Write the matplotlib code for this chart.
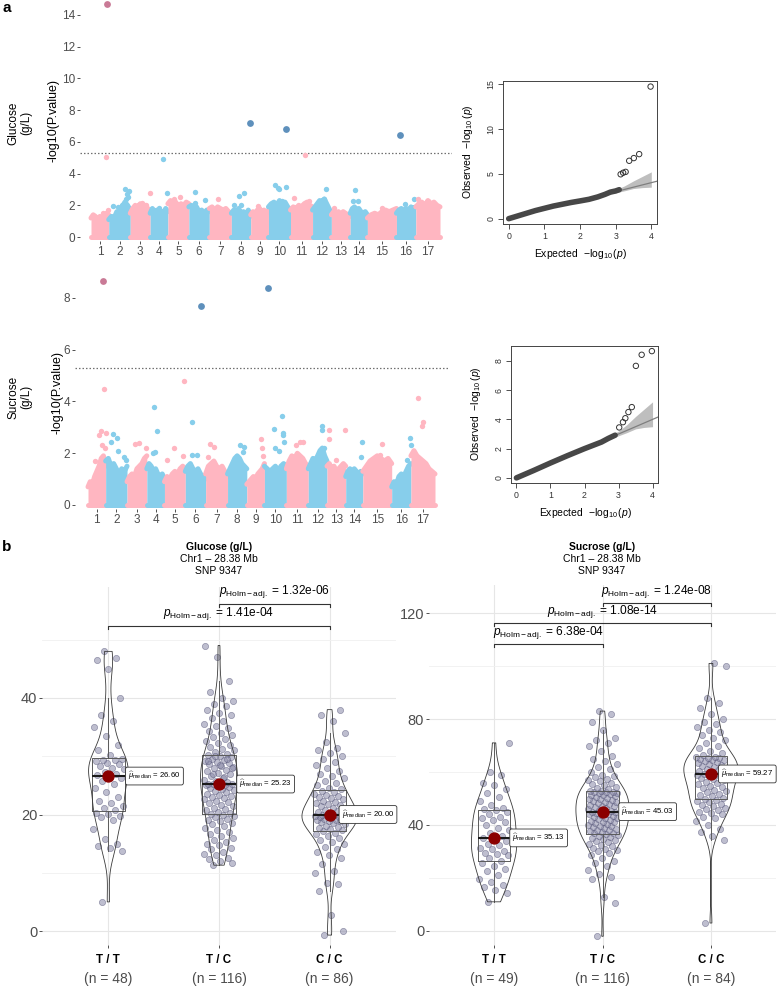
import numpy as np
import matplotlib
matplotlib.use('Agg')
import matplotlib.pyplot as plt

plt.rcParams['font.family'] = ['Liberation Sans', 'DejaVu Sans']
plt.rcParams['mathtext.fontset'] = 'custom'
plt.rcParams['mathtext.rm'] = 'Liberation Sans'
plt.rcParams['mathtext.it'] = 'Liberation Sans:italic'
plt.rcParams['mathtext.bf'] = 'Liberation Sans:bold'

# ======================= DATA : panel a =======================
chromosomes = [str(i) for i in range(1, 18)]
chr_len = [33, 40, 37, 33, 39, 38, 41, 36, 33, 41, 41, 35, 35, 32, 54, 36, 45]
env_pos = [0.0, 0.125, 0.25, 0.375, 0.5, 0.625, 0.75, 0.875, 1.0]
threshold = 5.3

# upper edge of the dense SNP cloud per chromosome (-log10 p)
glu_env = [
    [1.2, 1.4, 1.3, 1.1, 1.3, 1.2, 1.3, 1.5, 1.4],
    [1.1, 1.3, 1.2, 1.6, 1.5, 1.9, 2.2, 2.0, 1.7],
    [1.5, 1.8, 2.0, 1.9, 2.1, 1.9, 2.0, 1.8, 1.7],
    [1.5, 1.8, 1.6, 1.7, 1.4, 1.6, 1.5, 1.8, 1.6],
    [2.1, 2.3, 2.0, 2.2, 1.9, 2.1, 2.0, 2.2, 2.1],
    [1.9, 2.0, 1.8, 1.9, 1.6, 1.7, 1.5, 1.7, 1.6],
    [1.8, 1.9, 1.7, 1.9, 1.8, 1.7, 1.8, 1.6, 1.5],
    [1.5, 1.7, 1.6, 1.8, 1.5, 1.6, 1.4, 1.7, 1.3],
    [1.4, 1.6, 1.5, 1.7, 1.8, 1.6, 1.7, 1.5, 1.7],
    [1.9, 2.1, 2.2, 2.0, 2.3, 2.1, 2.2, 1.9, 1.7],
    [1.7, 1.9, 1.8, 2.0, 1.9, 2.1, 2.2, 2.0, 1.9],
    [1.7, 1.9, 2.1, 2.3, 2.2, 2.4, 2.1, 1.8, 1.5],
    [1.4, 1.6, 1.5, 1.6, 1.4, 1.6, 1.5, 1.4, 1.3],
    [1.5, 1.8, 1.9, 1.7, 1.8, 1.6, 1.5, 1.6, 1.4],
    [1.2, 1.4, 1.5, 1.4, 1.6, 1.7, 1.6, 1.7, 1.8],
    [1.5, 1.7, 1.8, 1.6, 1.8, 1.7, 1.9, 1.8, 1.9],
    [1.9, 2.1, 2.2, 2.0, 2.3, 2.1, 2.2, 2.0, 1.9]]
suc_env = [
    [0.7, 0.9, 0.8, 1.1, 1.3, 1.5, 1.8, 1.9, 1.5],
    [1.7, 1.8, 1.5, 1.6, 1.4, 1.2, 1.4, 1.3, 1.5],
    [0.9, 1.1, 1.2, 1.1, 1.4, 1.5, 1.6, 1.8, 1.9],
    [1.4, 1.6, 1.5, 1.3, 1.4, 1.2, 1.1, 1.2, 1.0],
    [0.9, 1.1, 1.0, 1.2, 1.3, 1.2, 1.4, 1.5, 1.4],
    [1.3, 1.5, 1.6, 1.4, 1.3, 1.4, 1.2, 1.1, 1.0],
    [1.2, 1.5, 1.6, 1.7, 1.5, 1.4, 1.5, 1.3, 1.1],
    [1.2, 1.4, 1.6, 1.8, 1.9, 1.8, 1.6, 1.5, 1.4],
    [0.8, 0.9, 1.0, 1.1, 1.0, 1.2, 1.3, 1.4, 1.6],
    [1.5, 1.4, 1.3, 1.4, 1.5, 1.3, 1.5, 1.6, 1.5],
    [1.4, 1.7, 1.9, 1.8, 2.0, 1.9, 1.8, 1.6, 1.5],
    [1.4, 1.6, 1.8, 1.7, 1.9, 2.1, 2.2, 1.9, 1.7],
    [1.5, 1.6, 1.4, 1.5, 1.3, 1.4, 1.5, 1.6, 1.5],
    [1.1, 1.3, 1.4, 1.2, 1.4, 1.3, 1.2, 1.3, 1.2],
    [1.3, 1.5, 1.7, 1.8, 1.9, 1.8, 1.7, 1.8, 1.6],
    [0.7, 0.9, 0.8, 1.1, 1.2, 1.1, 1.3, 1.5, 1.6],
    [1.9, 2.1, 1.9, 1.8, 1.7, 1.6, 1.4, 1.3, 1.2]]

# isolated SNPs: (chromosome, relative position in chromosome, -log10 p)
glu_hits = [
    (1, 0.83, 5.05), (1, 0.89, 14.7), (1, 0.95, 1.7), (1, 0.7, 1.5),
    (2, 0.2, 1.95), (2, 0.45, 1.9), (2, 0.6, 2.0), (2, 0.76, 3.05), (2, 0.85, 2.7),
    (2, 0.95, 2.9), (2, 0.9, 2.55), (2, 0.8, 2.4),
    (3, 0.6, 2.15), (3, 0.8, 2.05), (3, 0.98, 2.75),
    (4, 0.7, 4.9), (4, 0.95, 2.8), (4, 0.5, 1.85),
    (5, 0.6, 2.5), (5, 0.3, 2.4),
    (6, 0.3, 2.85), (6, 0.3, 2.15), (6, 0.8, 2.35),
    (7, 0.4, 2.4),
    (8, 0.4, 2.6), (8, 0.65, 2.75), (8, 0.95, 7.2), (8, 0.15, 2.0), (8, 0.5, 2.05),
    (9, 0.4, 1.95),
    (10, 0.28, 3.25), (10, 0.42, 3.1), (10, 0.46, 3.0), (10, 0.8, 3.15), (10, 0.78, 6.8),
    (10, 0.6, 2.25),
    (11, 0.15, 2.45), (11, 0.65, 5.2), (11, 0.85, 2.3),
    (12, 0.7, 3.0), (12, 0.6, 2.4), (12, 0.5, 2.35),
    (13, 0.15, 1.85),
    (14, 0.3, 2.95), (14, 0.15, 2.3), (14, 0.45, 2.25),
    (15, 0.5, 1.8),
    (16, 0.2, 6.45), (16, 0.45, 2.1), (16, 0.9, 2.4),
    (17, 0.1, 2.4), (17, 0.5, 2.3)]
suc_hits = [
    (1, 0.87, 8.65), (1, 0.9, 4.5), (1, 0.75, 2.85), (1, 1.0, 2.8), (1, 0.65, 2.7),
    (1, 0.8, 2.3), (1, 0.97, 2.2), (1, 0.4, 1.7),
    (2, 0.35, 2.75), (2, 0.55, 2.6), (2, 0.25, 2.45), (2, 0.6, 2.1), (2, 0.85, 1.85),
    (2, 0.95, 1.75),
    (3, 0.6, 2.4), (3, 0.4, 2.35), (3, 0.98, 2.2),
    (4, 0.38, 3.8), (4, 0.55, 2.85), (4, 0.35, 2.0), (4, 0.45, 2.05),
    (5, 0.45, 2.2), (5, 0.93, 4.8), (5, 0.88, 1.9), (5, 0.1, 1.75),
    (6, 0.79, 7.7), (6, 0.33, 3.2), (6, 0.35, 1.95), (6, 0.57, 1.95),
    (7, 0.2, 2.35), (7, 0.4, 2.25), (7, 0.12, 1.85),
    (8, 0.65, 2.3), (8, 0.85, 2.25), (8, 0.78, 2.05),
    (9, 0.8, 2.55), (9, 0.85, 2.2), (9, 0.93, 1.9),
    (10, 0.17, 8.4), (10, 0.42, 2.95), (10, 0.82, 3.45), (10, 0.83, 2.8), (10, 0.85, 2.7),
    (10, 0.88, 2.45), (10, 0.5, 2.2), (10, 0.65, 2.1),
    (11, 0.6, 2.45), (11, 0.75, 2.45), (11, 0.45, 2.3),
    (12, 0.75, 3.05), (12, 0.72, 2.9), (12, 0.85, 2.2),
    (13, 0.1, 2.9), (13, 0.95, 2.9), (13, 0.1, 2.55), (13, 0.5, 1.75),
    (14, 0.98, 2.45), (14, 0.9, 1.85),
    (15, 0.65, 2.35), (15, 0.6, 1.95),
    (16, 0.95, 2.6), (16, 0.98, 2.3), (16, 0.8, 1.75),
    (17, 0.3, 4.15), (17, 0.5, 3.2), (17, 0.45, 3.05)]

# QQ plots (expected vs observed -log10 p)
qq_glu_exp = [0, 0.25, 0.5, 0.75, 1.0, 1.25, 1.5, 1.75, 2.0, 2.25, 2.5, 2.7, 2.85, 3.0, 3.1]
qq_glu_obs = [0, 0.3, 0.6, 0.9, 1.15, 1.4, 1.6, 1.8, 1.97, 2.15, 2.42, 2.7, 2.95, 3.08, 3.22]
qq_glu_top_exp = [3.14, 3.21, 3.28, 3.38, 3.51, 3.66, 3.98]
qq_glu_top_obs = [4.93, 5.1, 5.2, 6.43, 6.73, 7.17, 14.67]
qq_suc_exp = [0, 0.5, 1.0, 1.5, 2.0, 2.5, 2.7, 2.9]
qq_suc_obs = [0, 0.5, 1.02, 1.52, 2.0, 2.45, 2.7, 2.92]
qq_suc_top_exp = [3.02, 3.13, 3.2, 3.29, 3.39, 3.51, 3.68, 3.98]
qq_suc_top_obs = [3.45, 3.81, 4.08, 4.5, 4.84, 7.66, 8.42, 8.67]
qq_band_x = [2.5, 3.0, 3.25, 3.5, 3.75, 4.0]
qq_band_lo = [2.45, 2.88, 3.1, 3.35, 3.45, 3.5]
qq_band_hi = [2.6, 3.2, 3.65, 4.2, 4.7, 5.2]

# ======================= DATA : panel b =======================
genotypes = ['T / T', 'T / C', 'C / C']
glu_TT = [5.0, 13.8, 14.2, 14.6, 15.0, 15.8, 17.5, 19.0, 19.5, 19.8,
          20.1, 20.3, 20.8, 21.2, 21.5, 22.0, 22.4, 23.0, 23.8, 24.5,
          25.2, 25.8, 26.2, 26.5, 26.7, 27.0, 27.3, 27.8, 28.0, 28.3,
          28.6, 28.9, 29.1, 29.3, 29.4, 29.6, 30.2, 31.0, 32.0, 33.5,
          35.0, 36.0, 37.0, 40.0, 45.0, 46.5, 46.8, 48.0]
glu_TC = [11.3, 11.6, 12.0, 12.3, 12.6, 13.0, 13.3, 13.6, 14.0, 14.3,
          14.7, 15.0, 15.3, 15.6, 16.0, 16.3, 16.6, 17.0, 17.3, 17.6,
          18.0, 18.3, 18.6, 18.9, 19.1, 19.3, 19.5, 19.7, 19.9, 20.1,
          20.3, 20.5, 20.8, 21.0, 21.2, 21.4, 21.7, 22.0, 22.2, 22.4,
          22.6, 22.8, 23.0, 23.2, 23.4, 23.6, 23.8, 24.0, 24.2, 24.4,
          24.6, 24.8, 24.9, 25.0, 25.1, 25.15, 25.2, 25.2, 25.26, 25.5,
          25.8, 26.0, 26.3, 26.6, 26.9, 27.2, 27.4, 27.7, 28.0, 28.2,
          28.4, 28.6, 28.8, 29.0, 29.2, 29.4, 29.6, 29.8, 30.0, 30.2,
          30.4, 30.7, 31.0, 31.3, 31.6, 32.0, 32.3, 32.6, 33.0, 33.3,
          33.6, 34.0, 34.4, 34.8, 35.2, 35.6, 36.0, 36.5, 37.0, 37.5,
          38.0, 38.6, 39.0, 39.5, 40.0, 41.0, 43.0, 47.0, 49.0, 26.5,
          27.0, 27.9, 28.5, 29.1, 29.5, 30.1]
glu_CC = [-0.7, 0.0, 2.8, 6.8, 8.0, 8.3, 10.0, 10.3, 11.5, 12.5,
          13.0, 13.5, 14.0, 14.5, 15.0, 15.3, 15.7, 16.0, 16.3, 16.6,
          16.9, 17.1, 17.3, 17.5, 17.7, 17.9, 18.1, 18.3, 18.5, 18.7,
          18.8, 18.9, 19.0, 19.1, 19.2, 19.3, 19.4, 19.5, 19.6, 19.7,
          19.8, 19.9, 20.0, 20.0, 20.2, 20.4, 20.6, 20.8, 21.0, 21.2,
          21.4, 21.6, 21.8, 22.0, 22.2, 22.4, 22.6, 22.8, 23.0, 23.2,
          23.4, 23.6, 23.8, 24.0, 24.3, 24.6, 25.0, 25.4, 25.8, 26.2,
          26.6, 27.0, 27.5, 28.0, 28.5, 29.0, 29.5, 30.0, 30.5, 31.0,
          31.5, 32.5, 34.0, 36.0, 37.0, 38.0]
suc_TT = [11.0, 14.5, 15.5, 16.5, 17.5, 18.5, 19.5, 21.0, 22.5, 23.5,
          24.5, 25.5, 26.5, 27.5, 28.5, 29.0, 29.5, 30.0, 30.8, 31.5,
          32.3, 33.0, 33.8, 34.5, 35.13, 36.0, 37.0, 38.0, 39.0, 40.0,
          41.0, 41.8, 42.5, 43.2, 44.0, 44.8, 45.5, 46.0, 46.5, 47.5,
          49.0, 50.5, 52.0, 53.5, 55.0, 56.0, 59.0, 60.0, 71.0]
suc_TC = [-2.0, 10.5, 13.0, 19.5, 20.5, 21.5, 23.0, 24.5, 25.5, 26.5,
          27.5, 28.5, 29.5, 30.0, 30.5, 31.0, 31.5, 32.0, 32.5, 33.0,
          33.5, 34.0, 34.4, 34.8, 35.2, 35.6, 36.0, 36.3, 36.5, 36.8,
          37.1, 37.4, 37.7, 38.0, 38.3, 38.6, 38.9, 39.2, 39.5, 39.8,
          40.1, 40.4, 40.7, 41.0, 41.3, 41.6, 41.9, 42.2, 42.5, 42.8,
          43.1, 43.4, 43.7, 44.0, 44.3, 44.6, 44.9, 45.0, 45.06, 45.4,
          45.8, 46.1, 46.4, 46.7, 47.0, 47.3, 47.6, 47.9, 48.2, 48.5,
          48.8, 49.1, 49.4, 49.7, 50.0, 50.3, 50.6, 50.9, 51.2, 51.5,
          51.8, 52.0, 52.2, 52.4, 52.5, 52.6, 52.7, 53.0, 53.5, 54.0,
          54.5, 55.0, 55.5, 56.0, 56.5, 57.0, 57.5, 58.0, 58.5, 59.0,
          60.0, 61.0, 62.0, 63.0, 64.0, 65.0, 66.0, 68.0, 70.0, 71.0,
          72.0, 73.0, 76.0, 79.0, 82.0, 83.0]
suc_CC = [3.0, 34.5, 36.0, 37.5, 38.5, 40.0, 41.5, 42.5, 43.0, 44.0,
          44.5, 45.0, 45.5, 46.0, 46.5, 47.0, 47.5, 48.0, 48.5, 49.0,
          49.3, 49.8, 50.3, 50.8, 51.3, 51.8, 52.3, 52.8, 53.3, 53.8,
          54.3, 54.8, 55.3, 55.8, 56.3, 56.8, 57.3, 57.8, 58.3, 58.7,
          59.0, 59.2, 59.34, 59.7, 60.0, 60.4, 60.8, 61.2, 61.6, 62.0,
          62.4, 62.8, 63.2, 63.5, 63.8, 64.1, 64.4, 64.7, 65.0, 65.2,
          65.4, 65.6, 65.8, 66.3, 67.0, 68.0, 69.0, 70.0, 71.0, 72.0,
          73.0, 74.0, 75.0, 76.0, 77.0, 78.0, 79.0, 80.0, 82.0, 84.0,
          86.0, 88.0, 100.0, 101.0]
glu_medians = [26.60, 25.23, 20.00]
suc_medians = [35.13, 45.03, 59.27]
glu_pairs = [(1, 3), (2, 3)]
glu_pvals = ['1.41e-04', '1.32e-06']
suc_pairs = [(1, 2), (1, 3), (2, 3)]
suc_pvals = ['6.38e-04', '1.08e-14', '1.24e-08']

# ======================= FIGURE =======================
W, H = 777, 993
fig = plt.figure(figsize=(W / 100, H / 100), dpi=100)


def px_ax(l, t, r, b):
    return fig.add_axes([l / W, 1 - b / H, (r - l) / W, (b - t) / H])


def ftext(x, y, s, **kw):
    return fig.text(x / W, 1 - y / H, s, **kw)


pink, blue = '#FFB6C1', '#87CEEB'
pink_hi, blue_hi = '#C97A96', '#5E90BC'
grey30 = '#4D4D4D'


def manhattan(ax, env, hits, xlim, ylim, yticks):
    starts = np.concatenate([[0], np.cumsum(chr_len)[:-1]])
    centers = starts + np.array(chr_len) / 2
    for i, (s, L) in enumerate(zip(starts, chr_len)):
        col = pink if i % 2 == 0 else blue
        xs = s + np.array(env_pos) * L
        ys = np.array(env[i])
        ax.fill_between(xs, 0, ys, color=col, lw=0, zorder=2)
        ax.plot(xs, ys, color=col, lw=3.6, solid_capstyle='round',
                solid_joinstyle='round', zorder=2)
        ax.plot([xs[0], xs[-1]], [0, 0], color=col, lw=3.6,
                solid_capstyle='round', zorder=2)
    for c, p, v in hits:
        i = c - 1
        x = starts[i] + p * chr_len[i]
        sig = v > threshold
        if i % 2 == 0:
            col = pink_hi if sig else pink
        else:
            col = blue_hi if sig else blue
        ax.scatter(x, v, s=24 if sig else 15, color=col, lw=0, zorder=3, clip_on=False)
    ax.axhline(threshold, color='#707070', lw=0.9, ls=(0, (1.2, 1.6)), zorder=1)
    ax.set_xlim(xlim)
    ax.set_ylim(ylim)
    ax.set_xticks(centers, chromosomes)
    ax.set_yticks(yticks)
    for sp in ax.spines.values():
        sp.set_visible(False)
    ax.tick_params(length=2.2, width=0.6, color='#333333', labelsize=8.5,
                   labelcolor=grey30, pad=1.5)
    ax.patch.set_alpha(0)


L_tot = sum(chr_len)
sc = 349 / L_tot
ax1 = px_ax(80, 0, 452, 241)
manhattan(ax1, glu_env, glu_hits, (-11 / sc, L_tot + 12 / sc), (-0.25, 14.94),
          [0, 2, 4, 6, 8, 10, 12, 14])
sc2 = 347 / L_tot
ax2 = px_ax(75, 270, 450, 509)
manhattan(ax2, suc_env, suc_hits, (-13 / sc2, L_tot + 15 / sc2), (-0.155, 9.08),
          [0, 2, 4, 6, 8])

ftext(54, 121, '-log10(P.value)', rotation=90, ha='center', va='center', fontsize=9)
ftext(20, 123, 'Glucose\n(g/L)', rotation=90, ha='center', va='center', fontsize=8.5,
      linespacing=1.1)
ftext(57, 393, '-log10(P.value)', rotation=90, ha='center', va='center', fontsize=9)
ftext(20, 397, 'Sucrose\n(g/L)', rotation=90, ha='center', va='center', fontsize=8.5,
      linespacing=1.1)


def qq(ax, ex, ob, tex, tob, xlim, ylim, yticks):
    ax.fill_between(qq_band_x, qq_band_lo, qq_band_hi, color='#BEBEBE', lw=0, zorder=1)
    ax.plot([0, 5], [0, 5], color='#7F7F7F', lw=0.9, zorder=2)
    ax.plot(ex, ob, color='#474747', lw=4.0, solid_capstyle='round', zorder=3)
    ax.scatter(tex, tob, s=15, facecolors='none', edgecolors='#333333',
               linewidths=0.7, zorder=4, clip_on=False)
    ax.set_xlim(xlim)
    ax.set_ylim(ylim)
    ax.set_xticks([0, 1, 2, 3, 4])
    ax.set_yticks(yticks)
    ax.tick_params(direction='out', length=3.5, width=0.6, labelsize=6.3, pad=2,
                   color='#333333', labelcolor='#333333')
    for lab in ax.get_yticklabels():
        lab.set_rotation(90)
        lab.set_va('center')
    for sp in ax.spines.values():
        sp.set_linewidth(0.7)
        sp.set_color('#444444')


ax3 = px_ax(503, 81, 657, 224)
qq(ax3, qq_glu_exp, qq_glu_obs, qq_glu_top_exp, qq_glu_top_obs,
   (-0.16, 4.16), (-0.59, 15.29), [0, 5, 10, 15])
ftext(580, 254, r'Expected  $-\log_{10}(p)$', ha='center', va='center', fontsize=7.5)
ftext(468, 152, r'Observed  $-\log_{10}(p)$', ha='center', va='center', fontsize=7.5,
      rotation=90)
ax4 = px_ax(511, 346, 658, 483)
qq(ax4, qq_suc_exp, qq_suc_obs, qq_suc_top_exp, qq_suc_top_obs,
   (-0.16, 4.16), (-0.35, 9.02), [0, 2, 4, 6, 8])
ftext(585, 513, r'Expected  $-\log_{10}(p)$', ha='center', va='center', fontsize=7.5)
ftext(476, 414, r'Observed  $-\log_{10}(p)$', ha='center', va='center', fontsize=7.5,
      rotation=90)

ftext(7, 8, 'a', fontsize=11, fontweight='bold', ha='center', va='center')
ftext(7, 547, 'b', fontsize=11, fontweight='bold', ha='center', va='center')


def kde(vals):
    v = np.asarray(vals, float)
    n = len(v)
    sd = v.std(ddof=1)
    q75, q25 = np.percentile(v, [75, 25])
    bw = 0.9 * min(sd, (q75 - q25) / 1.34) * n ** (-0.2)
    grid = np.linspace(v.min(), v.max(), 400)
    d = np.exp(-0.5 * ((grid[:, None] - v[None, :]) / bw) ** 2).sum(1) / (n * bw * np.sqrt(2 * np.pi))
    return grid, d


def betweenstats(ax, groups, medians, pairs, pvals, br_y, tip, lab_dy, ylim, major,
                 minor, label_dx):
    pos = [1, 2, 3]
    ax.set_xlim(0.4, 3.6)
    ax.set_ylim(ylim)
    ax.set_axisbelow(True)
    ax.set_yticks(major)
    ax.set_yticks(minor, minor=True)
    ax.set_xticks(pos, [''] * 3)
    ax.grid(True, which='major', color='#E6E6E6', lw=0.8)
    ax.grid(True, which='minor', axis='y', color='#F0F0F0', lw=0.6)
    for sp in ax.spines.values():
        sp.set_visible(False)
    ax.tick_params(which='major', length=2, width=0.6, color='#333333',
                   labelsize=10.5, labelcolor=grey30, pad=1.5)
    ax.tick_params(which='minor', length=0)
    # jittered points
    for p, g in zip(pos, groups):
        n = len(g)
        jit = ((np.arange(n) * 0.618034 + 0.31) % 1 - 0.5) * 0.28
        ax.scatter(p + jit, g, s=20, c='#8A8AA8', edgecolors='#4E4E72',
                   linewidths=0.5, alpha=0.55, zorder=2)
    # boxplots
    ax.boxplot(groups, positions=pos, widths=0.3, showfliers=False, showcaps=False,
               whis=1.5, manage_ticks=False, zorder=3,
               boxprops=dict(color='#5A5A5A', lw=0.7),
               whiskerprops=dict(color='#5A5A5A', lw=0.7),
               medianprops=dict(color='#1A1A1A', lw=1.5))
    # violins (area-scaled, trimmed)
    dens = [kde(g) for g in groups]
    dmax = max(d.max() for _, d in dens)
    for p, (gr, d) in zip(pos, dens):
        half = d / dmax * 0.25
        ax.fill_betweenx(gr, p - half, p + half, facecolor='none',
                         edgecolor='#3A3A3A', lw=0.6, zorder=3)
    # medians
    for p, m, dx in zip(pos, medians, label_dx):
        ax.scatter(p, m, s=62, color='#8B0000', zorder=6)
        ax.text(p + dx, m, r'$\widehat{\mu}_{\mathrm{median}}$' + ' = %.2f' % m,
                ha='left', va='center', fontsize=5.6, zorder=7,
                bbox=dict(boxstyle='round,pad=0.35,rounding_size=0.25', fc='white',
                          ec='#333333', lw=0.6))
    # significance brackets
    for (a, b), pv, y in zip(pairs, pvals, br_y):
        ax.plot([a, a, b, b], [y - tip, y, y, y - tip], color='#333333', lw=0.8,
                clip_on=False, zorder=4)
        ax.text((a + b) / 2, y + lab_dy, r'$p_{\mathrm{Holm-adj.}}$ = ' + pv,
                ha='center', va='center', fontsize=8.6, clip_on=False)
    # category labels
    tr = ax.get_xaxis_transform()
    for p, lab, g in zip(pos, genotypes, groups):
        ax.text(p, -0.042, lab, transform=tr, ha='center', va='center',
                fontsize=8.3, fontweight='bold', color='black')
        ax.text(p, -0.095, '(n = %d)' % len(g), transform=tr, ha='center',
                va='center', fontsize=10, color=grey30)


ax5 = px_ax(42, 587, 396, 945)
betweenstats(ax5, [glu_TT, glu_TC, glu_CC], glu_medians, glu_pairs, glu_pvals,
             [52.3, 56.1], 0.5, 2.2, (-2.4, 59.05), [0, 20, 40], [10, 30, 50],
             [0.18, 0.185, 0.11])
ax6 = px_ax(429, 585, 776, 945)
betweenstats(ax6, [suc_TT, suc_TC, suc_CC], suc_medians, suc_pairs, suc_pvals,
             [108.3, 116.2, 123.8], 1.1, 4.5, (-5.3, 130.6), [0, 40, 80, 120],
             [20, 60, 100], [0.17, 0.175, 0.095])

for cx, t in [(219, 'Glucose (g/L)'), (602, 'Sucrose (g/L)')]:
    ftext(cx, 547, t, ha='center', va='center', fontsize=7.5, fontweight='bold')
    ftext(cx, 559, 'Chr1 \u2013 28.38 Mb', ha='center', va='center', fontsize=7.5)
    ftext(cx, 571, 'SNP 9347', ha='center', va='center', fontsize=7.5)

fig.savefig('out.png', dpi=100)
